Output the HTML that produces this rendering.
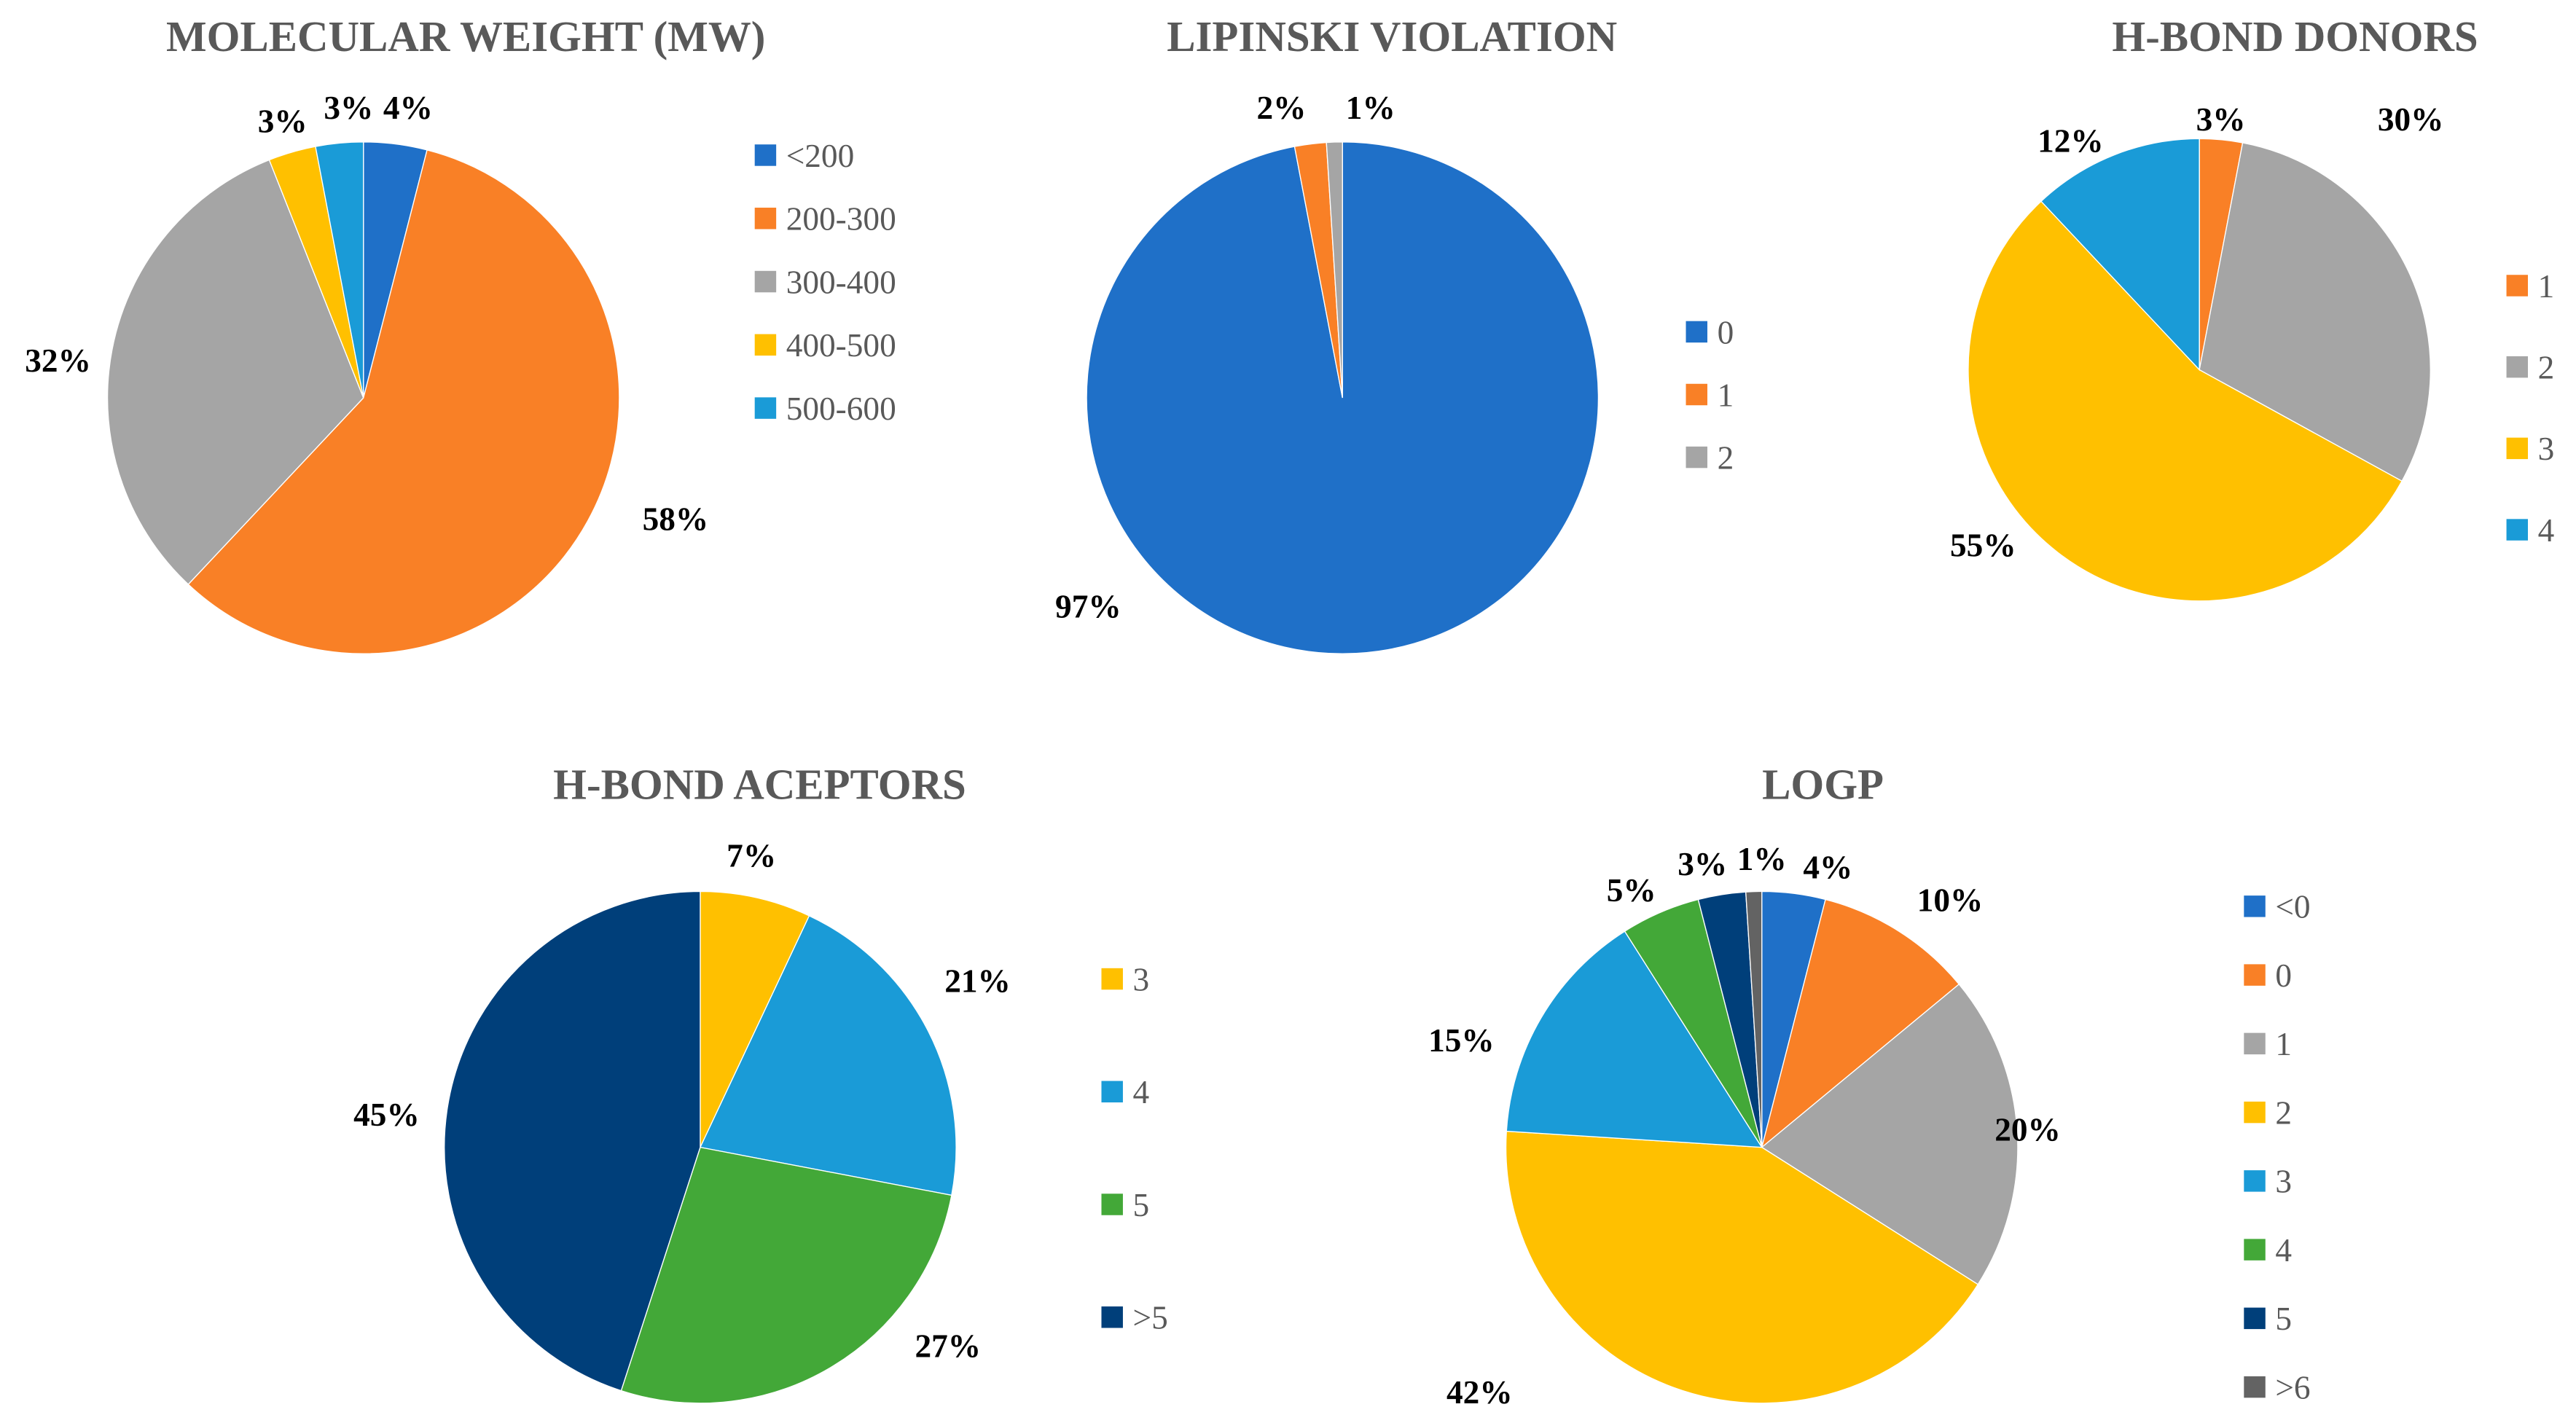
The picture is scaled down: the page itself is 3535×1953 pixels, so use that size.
<!DOCTYPE html>
<html><head><meta charset="utf-8"><style>
html,body{margin:0;padding:0;background:#fff;}
svg{display:block;}
.title{font-family:"Liberation Serif",serif;font-weight:bold;font-size:26px;fill:#595959;text-anchor:middle;}
.lbl{font-family:"Liberation Serif",serif;font-weight:bold;font-size:20px;fill:#000;text-anchor:middle;}
.leg{font-family:"Liberation Serif",serif;font-size:20px;fill:#595959;}
</style></head><body>
<svg id="root" width="3535" height="1953" viewBox="0 0 1560 862" xmlns="http://www.w3.org/2000/svg">
<rect width="1560" height="862" fill="#fff"/>
</svg>
<script>
// Chart data
const mwCategories = ["<200","200-300","300-400","400-500","500-600"];
const mwValues = [4,58,32,3,3];
const lipCategories = ["0","1","2"];
const lipValues = [97,2,1];
const donCategories = ["1","2","3","4"];
const donValues = [3,30,55,12];
const accCategories = ["3","4","5",">5"];
const accValues = [7,21,27,45];
const logpCategories = ["<0","0","1","2","3","4","5",">6"];
const logpValues = [4,10,20,42,15,5,3,1];

const C = {blue:"#1f70c8",orange:"#f98026",gray:"#a5a5a5",yellow:"#ffc000",lblue:"#1a9bd7",green:"#43a838",navy:"#003f7a",dgray:"#636363"};
const NS = "http://www.w3.org/2000/svg";
const root = document.getElementById('root');

const charts = [
 {key:'molecular-weight',title:"MOLECULAR WEIGHT (MW)",tx:282,ty:31,cx:220,cy:241,r:155,cats:mwCategories,vals:mwValues,
  colors:[C.blue,C.orange,C.gray,C.yellow,C.lblue],
  lbls:[[247,72],[409,321],[35,225],[171,80],[211,72]],legX:457,legY:94,legDy:38.3},
 {key:'lipinski-violation',title:"LIPINSKI VIOLATION",tx:843,ty:31,cx:813,cy:241,r:155,cats:lipCategories,vals:lipValues,
  colors:[C.blue,C.orange,C.gray],
  lbls:[[659,374],[776,72],[830,72]],legX:1021,legY:201,legDy:38},
 {key:'h-bond-donors',title:"H-BOND DONORS",tx:1390,ty:31,cx:1332,cy:224,r:140,cats:donCategories,vals:donValues,
  colors:[C.orange,C.gray,C.yellow,C.lblue],
  lbls:[[1345,79],[1460,79],[1201,337],[1254,92]],legX:1518,legY:173,legDy:49.3},
 {key:'h-bond-acceptors',title:"H-BOND ACEPTORS",tx:460,ty:484,cx:424,cy:695,r:155,cats:accCategories,vals:accValues,
  colors:[C.yellow,C.lblue,C.green,C.navy],
  lbls:[[455,525],[592,601],[574,822],[234,682]],legX:667,legY:593,legDy:68.3},
 {key:'logp',title:"LOGP",tx:1104,ty:484,cx:1067,cy:695,r:155,cats:logpCategories,vals:logpValues,
  colors:[C.blue,C.orange,C.gray,C.yellow,C.lblue,C.green,C.navy,C.dgray],
  lbls:[[1107,532],[1181,552],[1228,691],[896,850],[885,637],[988,546],[1031,530],[1067,527]],legX:1359,legY:549,legDy:41.6}
];

function angleScale(vals){
  const tot = vals.reduce((a,b)=>a+b,0);
  return v => v/tot*Math.PI*2;
}
function pt(cx,cy,r,a){return [cx+r*Math.sin(a), cy-r*Math.cos(a)];}

charts.forEach(ch=>{
  const g = document.createElementNS(NS,'g');
  
  
  root.appendChild(g);

  const t = document.createElementNS(NS,'text');
  
  
  t.setAttribute('class','title');
  t.setAttribute('x',ch.tx); t.setAttribute('y',ch.ty);
  t.textContent = ch.title;
  g.appendChild(t);

  const sc = angleScale(ch.vals);
  let a0 = 0;
  ch.vals.forEach((v,i)=>{
    const a1 = a0 + sc(v);
    const p0 = pt(ch.cx,ch.cy,ch.r,a0), p1 = pt(ch.cx,ch.cy,ch.r,a1);
    const large = (a1-a0) > Math.PI ? 1 : 0;
    const p = document.createElementNS(NS,'path');
    
    
    p.setAttribute('d',`M${ch.cx},${ch.cy} L${p0[0]},${p0[1]} A${ch.r},${ch.r} 0 ${large} 1 ${p1[0]},${p1[1]} Z`);
    p.setAttribute('fill', ch.colors[i]);
    p.setAttribute('stroke','#fff'); p.setAttribute('stroke-width','0.6');
    g.appendChild(p);
    a0 = a1;
  });

  ch.vals.forEach((v,i)=>{
    const l = document.createElementNS(NS,'text');
    
    
    l.setAttribute('class','lbl');
    l.setAttribute('x',ch.lbls[i][0]); l.setAttribute('y',ch.lbls[i][1]);
    l.textContent = v+'%';
    g.appendChild(l);
  });

  ch.cats.forEach((c,i)=>{
    const y = ch.legY + i*ch.legDy;
    const s = document.createElementNS(NS,'rect');
    
    
    s.setAttribute('x',ch.legX); s.setAttribute('y',y-6.5);
    s.setAttribute('width',13); s.setAttribute('height',13);
    s.setAttribute('fill',ch.colors[i]);
    g.appendChild(s);
    const tx = document.createElementNS(NS,'text');
    
    
    tx.setAttribute('class','leg');
    tx.setAttribute('x',ch.legX+19); tx.setAttribute('y',y+7);
    tx.textContent = c;
    g.appendChild(tx);
  });
});
</script>
</body></html>
